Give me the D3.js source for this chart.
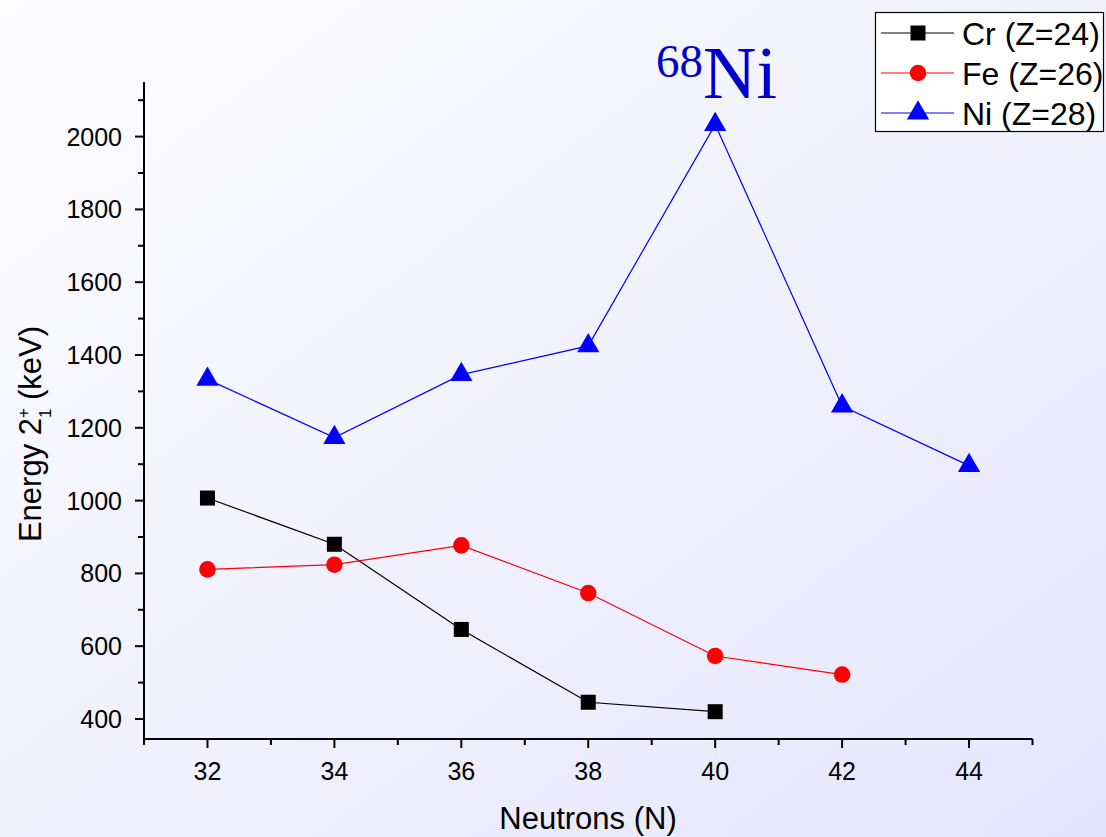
<!DOCTYPE html>
<html>
<head>
<meta charset="utf-8">
<script src="https://cdn.jsdelivr.net/npm/d3@7"></script>
<style>
  html, body { margin: 0; padding: 0; }
  svg { display: block; }
</style>
</head>
<body>
<svg id="chart" width="1106" height="837"></svg>
<script>
// Neutron numbers and first 2+ excitation energies (keV)
const neutrons = [32, 34, 36, 38, 40, 42, 44];
const crEnergy = [1007, 880, 646, 446, 420];          // N = 32..40
const feEnergy = [811, 824, 877, 746, 573, 522];      // N = 32..42
const niEnergy = [1333, 1173, 1346, 1425, 2033, 1260, 1096]; // N = 32..44
const seriesNames = ["Cr (Z=24)", "Fe (Z=26)", "Ni (Z=28)"];
const xTicks = [32, 34, 36, 38, 40, 42, 44];
const yTicks = [400, 600, 800, 1000, 1200, 1400, 1600, 1800, 2000];

const W = 1106, H = 837;
const svg = d3.select("#chart");

// soft lavender background gradient
const defs = svg.append("defs");
const grad = defs.append("linearGradient").attr("id", "bg")
  .attr("x1", "0%").attr("y1", "0%").attr("x2", "100%").attr("y2", "100%");
grad.append("stop").attr("offset", "0%").attr("stop-color", "#fdfdff");
grad.append("stop").attr("offset", "100%").attr("stop-color", "#e5e5fd");
svg.append("rect").attr("width", W).attr("height", H).attr("fill", "url(#bg)");

const plotL = 144, plotR = 1032.5, plotT = 82, plotB = 739;
const x = d3.scaleLinear().domain([31, 45]).range([plotL, plotR]);
const y = d3.scaleLinear().domain([345, 2150]).range([plotB, plotT]);

const font = "Arial, 'Liberation Sans', sans-serif";

// x axis
const gx = svg.append("g").attr("transform", `translate(0,${plotB})`);
gx.append("line").attr("x1", plotL).attr("x2", plotR).attr("stroke", "#000").attr("stroke-width", 2);
d3.range(31, 46).forEach(v => {
  const major = xTicks.includes(v);
  gx.append("line").attr("x1", x(v)).attr("x2", x(v)).attr("y1", 0).attr("y2", major ? 9 : 6)
    .attr("stroke", "#000").attr("stroke-width", 2);
});
gx.selectAll("text.tick").data(xTicks).join("text")
  .attr("x", d => x(d)).attr("y", 41).attr("text-anchor", "middle")
  .attr("font-family", font).attr("font-size", 25).text(d => d);

// y axis
const gy = svg.append("g").attr("transform", `translate(${plotL},0)`);
gy.append("line").attr("y1", plotT).attr("y2", plotB).attr("stroke", "#000").attr("stroke-width", 2);
d3.range(400, 2101, 100).forEach(v => {
  const major = yTicks.includes(v);
  gy.append("line").attr("y1", y(v)).attr("y2", y(v)).attr("x1", 0).attr("x2", major ? -9 : -6)
    .attr("stroke", "#000").attr("stroke-width", 2);
});
gy.selectAll("text.tick").data(yTicks).join("text")
  .attr("x", -22).attr("y", d => y(d)).attr("dy", "0.36em").attr("text-anchor", "end")
  .attr("font-family", font).attr("font-size", 25).text(d => d);

// axis titles
svg.append("text").attr("x", 588).attr("y", 829).attr("text-anchor", "middle")
  .attr("font-family", font).attr("font-size", 31).text("Neutrons (N)");

const yt = svg.append("text").attr("transform", "translate(41,434) rotate(-90)")
  .attr("text-anchor", "middle").attr("font-family", font).attr("font-size", 31);
yt.append("tspan").text("Energy 2");
yt.append("tspan").attr("font-size", 17).attr("dy", -12).text("+");
yt.append("tspan").attr("font-size", 17).attr("dx", -10).attr("dy", 22).text("1");
yt.append("tspan").attr("dy", -10).text(" (keV)");

// series
const series = [
  { name: seriesNames[0], values: crEnergy, color: "#000000", shape: "square" },
  { name: seriesNames[1], values: feEnergy, color: "#ff0000", shape: "circle" },
  { name: seriesNames[2], values: niEnergy, color: "#0000ff", shape: "triangle" }
];

const symbolFor = {
  square: d3.symbol().type(d3.symbolSquare).size(225),
  circle: d3.symbol().type(d3.symbolCircle).size(215),
  triangle: d3.symbol().type(d3.symbolTriangle).size(215)
};

const line = d3.line().x(d => x(d[0])).y(d => y(d[1]));

series.forEach(s => {
  const pts = s.values.map((v, i) => [neutrons[i], v]);
  svg.append("path").datum(pts).attr("d", line).attr("fill", "none")
    .attr("stroke", s.color).attr("stroke-width", 1.2);
  svg.append("g").selectAll("path").data(pts).join("path")
    .attr("transform", d => `translate(${x(d[0])},${y(d[1])})`)
    .attr("d", symbolFor[s.shape]()).attr("fill", s.color);
});

// legend
const lg = svg.append("g");
lg.append("rect").attr("x", 875.5).attr("y", 12.5).attr("width", 228).attr("height", 119)
  .attr("fill", "#fff").attr("stroke", "#000").attr("stroke-width", 1.2);
series.forEach((s, i) => {
  const cy = 33 + i * 40;
  lg.append("line").attr("x1", 881).attr("x2", 954).attr("y1", cy).attr("y2", cy)
    .attr("stroke", s.color).attr("stroke-width", 1.2);
  lg.append("path").attr("transform", `translate(918,${cy})`).attr("d", symbolFor[s.shape]())
    .attr("fill", s.color);
  lg.append("text").attr("x", 962).attr("y", cy).attr("dy", "0.36em")
    .attr("font-family", font).attr("font-size", 32).text(s.name);
});

// 68Ni annotation
const ann = svg.append("text").attr("x", 656).attr("y", 98)
  .attr("font-family", "'Liberation Serif', 'Times New Roman', serif").attr("fill", "#0000cc");
ann.append("tspan").attr("font-size", 47).attr("dy", -21).text("68");
ann.append("tspan").attr("font-size", 74).attr("dy", 21).text("Ni");
</script>
</body>
</html>
